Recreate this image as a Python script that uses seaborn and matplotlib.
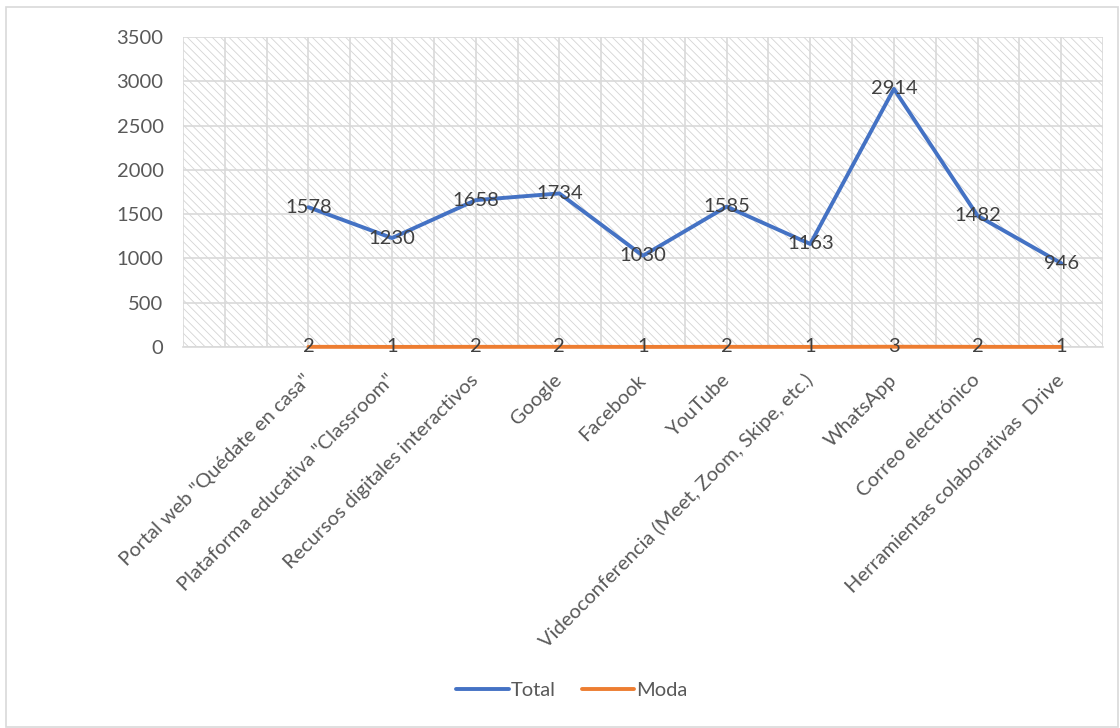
import numpy as np
import pandas as pd
import matplotlib
matplotlib.use("Agg")
import matplotlib.pyplot as plt
import seaborn as sns
from matplotlib.patches import Rectangle
from matplotlib.lines import Line2D

categories = [
    'Portal web "Quédate en casa"',
    'Plataforma educativa "Classroom"',
    'Recursos digitales interactivos',
    'Google',
    'Facebook',
    'YouTube',
    'Videoconferencia (Meet, Zoom, Skipe, etc.)',
    'WhatsApp',
    'Correo electrónico',
    'Herramientas colaborativas  Drive',
]
total = [1578, 1230, 1658, 1734, 1030, 1585, 1163, 2914, 1482, 946]
moda = [2, 1, 2, 2, 1, 2, 1, 3, 2, 1]
y_ticks = [0, 500, 1000, 1500, 2000, 2500, 3000, 3500]

sns.set_theme(style="white")
plt.rcParams['font.family'] = ['Lato', 'DejaVu Sans']
plt.rcParams['hatch.linewidth'] = 0.6
plt.rcParams['hatch.color'] = '#d4d4d4'

FS = 14.5
idx = list(range(len(categories)))
df = pd.DataFrame({
    'x': idx + idx,
    'y': total + moda,
    'serie': ['Total'] * len(idx) + ['Moda'] * len(idx),
})

fig = plt.figure(figsize=(11.2, 7.28), dpi=100)
ax = fig.add_axes([183/1120, 1 - 347/728, (1103 - 183)/1120, (347 - 37)/728])

# hatched plot-area background
ax.add_patch(Rectangle((0, 0), 1, 1, transform=ax.transAxes, facecolor='white',
                       edgecolor='#d4d4d4', hatch='\\' * 4, linewidth=0, zorder=0.1))

palette = {'Total': '#4472C4', 'Moda': '#ED7D31'}
sns.lineplot(data=df, x='x', y='y', hue='serie', palette=palette, ax=ax,
             linewidth=2.8, legend=False, zorder=3)
for ln in ax.get_lines():
    ln.set_clip_on(False)
    ln.set_solid_capstyle('round')

ax.set_xlim(-1.5, 9.5)
ax.set_ylim(0, 3500)
ax.set_yticks(y_ticks)
ax.set_yticklabels([str(v) for v in y_ticks])
ax.set_xticks(idx)
ax.set_xticklabels(categories, rotation=45, ha='right', va='center',
                   rotation_mode='anchor')

ax.set_axisbelow(True)
ax.grid(False)
for v in y_ticks:
    ax.axhline(v, color='#d9d9d9', linewidth=1.2, zorder=0.5)
for v in np.arange(-1.5, 9.51, 0.5):
    ax.axvline(v, color='#d9d9d9', linewidth=1.2, zorder=0.5)

ax.tick_params(axis='y', length=0, pad=14, labelsize=FS, labelcolor='#595959')
ax.tick_params(axis='x', which='major', length=0, pad=22, labelsize=FS,
               labelcolor='#595959')
for s in ['top', 'right', 'left']:
    ax.spines[s].set_visible(False)
ax.spines['bottom'].set_color('#d9d9d9')
ax.spines['bottom'].set_linewidth(1.2)
ax.set_xlabel('')
ax.set_ylabel('')

for i, v in enumerate(total):
    ax.text(i, v, str(v), ha='center', va='center', fontsize=FS,
            color='#404040', zorder=5)
for i, v in enumerate(moda):
    ax.text(i, v, str(v), ha='center', va='center', fontsize=FS,
            color='#404040', zorder=5)

handles = [Line2D([], [], color=palette['Total'], linewidth=2.8, solid_capstyle='round'),
           Line2D([], [], color=palette['Moda'], linewidth=2.8, solid_capstyle='round')]
fig.legend(handles, ['Total', 'Moda'], loc='center', bbox_to_anchor=(572/1120, 1 - 690/728),
           ncol=2, frameon=False, fontsize=FS, handlelength=2.6, handletextpad=0.1,
           columnspacing=1.3, labelcolor='#595959')

fig.add_artist(Rectangle((6/1120, 1/728), 1112/1120, 720/728, transform=fig.transFigure,
                         fill=False, edgecolor='#d9d9d9', linewidth=1.2))

fig.savefig('out.png', dpi=100)
